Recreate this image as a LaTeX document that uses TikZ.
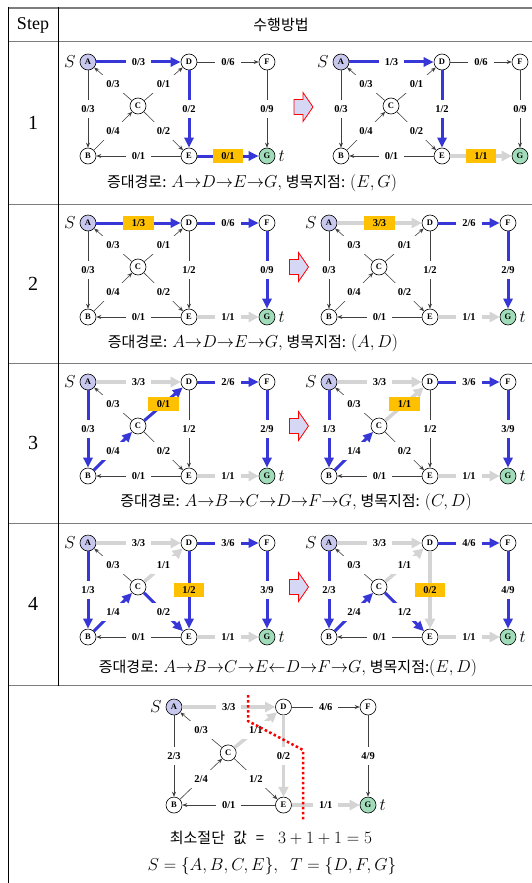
\documentclass[tikz,border=0pt]{standalone}
\usepackage{fontspec}
\setmainfont{Liberation Serif}
\newfontfamily\kr{Noto Sans CJK KR}
\usetikzlibrary{arrows.meta,positioning}
\definecolor{augblue}{RGB}{55,55,215}
\definecolor{satgray}{RGB}{212,212,212}
\definecolor{hotfill}{RGB}{255,192,0}
\definecolor{srcfill}{RGB}{200,200,238}
\definecolor{snkfill}{RGB}{160,220,185}
\definecolor{arrfill}{RGB}{214,214,245}
\definecolor{rulegray}{RGB}{125,125,125}
\newcommand{\pth}[1]{{\fontsize{17}{20}\selectfont$#1$}}
\newcommand{\ra}{{\rightarrow}}
\newcommand{\la}{{\leftarrow}}
% one network: prefix, scope options, sink mark, edge list
\newcommand{\flownet}[4]{%
  \begin{scope}[#2]
    \node[src] (#1A) at (0,0) {A};
    \node[vtx] (#1D) at (101,0) {D};
    \node[vtx] (#1F) at (179,0) {F};
    \node[vtx] (#1C) at (50,44) {C};
    \node[vtx] (#1B) at (0,94) {B};
    \node[vtx] (#1E) at (101,94) {E};
    \node[snk] (#1G) at (179,94) {G};
  \end{scope}
  \node[endlbl, left=4pt of #1A] (#1s) {$S$};
  \node[endlbl, right=3pt of #1G] (#1t) {#3};
  \foreach \ea/\eb/\es/\ls/\fl/\cp in {#4}
    \draw[\es] (#1\ea) -- node[\ls] {\fl/\cp} (#1\eb);
}
% hollow step arrow between two networks
\newcommand{\stepgo}[1]{%
  \draw[blockarr] (#1) ++(-9.5,-7.5) -- ++(9,0) -- ++(0,-7) -- ++(10,14.5)
    -- ++(-10,14.5) -- ++(0,-7) -- ++(-9,0) -- cycle;
}

\begin{document}
\begin{tikzpicture}[x=1pt, y=-1pt,
  vtx/.style={circle, draw, line width=0.6pt, fill=white, minimum size=16pt, inner sep=0pt, font=\fontsize{8.5}{9}\selectfont\bfseries},
  src/.style={vtx, fill=srcfill},
  snk/.style={vtx, fill=snkfill},
  endlbl/.style={inner sep=0pt, font=\fontsize{16}{18}\selectfont},
  nrm/.style={draw=black!75, line width=0.6pt, -{Stealth[length=5pt, width=4pt]}},
  aug/.style={draw=augblue, line width=3pt, -{Triangle[length=10pt, width=9pt]}},
  sat/.style={draw=satgray, line width=3.5pt, -{Triangle[length=10pt, width=10pt]}},
  lbl/.style={fill=white, inner xsep=6pt, inner ysep=5pt, text height=7pt, text depth=0.5pt, font=\fontsize{10.5}{12}\selectfont\bfseries},
  hot/.style={lbl, fill=hotfill, inner xsep=8.5pt, inner ysep=3.5pt},
  blockarr/.style={draw=red, fill=arrfill, line width=0.8pt, line join=miter},
  captxt/.style={inner sep=0pt, font=\fontsize{15}{18}\selectfont},
  stepnum/.style={inner sep=0pt, font=\fontsize{20}{22}\selectfont},
  hrule/.style={draw=rulegray, line width=1.3pt},
  vrule/.style={draw=black, line width=0.8pt},
  cutline/.style={draw=red, line width=2.5pt, dash pattern=on 2.5pt off 2.5pt},
]
  \useasboundingbox (0,0) rectangle (532,883);

  % table
  \foreach \yy in {8,41.5,204.5,363.5,523.5,685.5}
    \draw[hrule] (8,\yy) -- (532,\yy);
  \draw[vrule] (8,7.4) -- (8,883);
  \draw[vrule] (58,7.4) -- (58,685.5);
  \node[inner sep=0pt, font=\fontsize{18}{20}\selectfont] (hstep) at (33,25) {Step};
  \node[inner sep=0pt, font=\fontsize{15}{17}\selectfont\kr] (hmeth) at (281,25) {수행방법};

  % step 1
  \node[stepnum] (n1) at (33,123) {1};
  \flownet{pa}{shift={(88,62)}}{$t$}{A/D/aug/lbl/0/3, D/F/nrm/lbl/0/6, F/G/nrm/lbl/0/9,
    A/B/nrm/lbl/0/3, C/A/nrm/lbl/0/3, C/D/nrm/lbl/0/1, B/C/nrm/lbl/0/4, C/E/nrm/lbl/0/2,
    D/E/aug/lbl/0/2, E/B/nrm/lbl/0/1, E/G/aug/hot/0/1}
  \stepgo{303.5,107}
  \flownet{pb}{shift={(341,62)}}{}{A/D/aug/lbl/1/3, D/F/nrm/lbl/0/6, F/G/nrm/lbl/0/9,
    A/B/nrm/lbl/0/3, C/A/nrm/lbl/0/3, C/D/nrm/lbl/0/1, B/C/nrm/lbl/0/4, C/E/nrm/lbl/0/2,
    D/E/aug/lbl/1/2, E/B/nrm/lbl/0/1, E/G/sat/hot/1/1}
  \node[captxt] (cap1) at (252,183) {{\kr 증대경로:} \pth{A\ra D\ra E\ra G,} {\kr 병목지점:} \pth{(E,G)}};

  % step 2
  \node[stepnum] (n2) at (33,284) {2};
  \flownet{qa}{shift={(88,223)}}{$t$}{A/D/aug/hot/1/3, D/F/aug/lbl/0/6, F/G/aug/lbl/0/9,
    A/B/nrm/lbl/0/3, C/A/nrm/lbl/0/3, C/D/nrm/lbl/0/1, B/C/nrm/lbl/0/4, C/E/nrm/lbl/0/2,
    D/E/nrm/lbl/1/2, E/B/nrm/lbl/0/1, E/G/sat/lbl/1/1}
  \stepgo{299,267}
  \flownet{qb}{shift={(329,223)}}{$t$}{A/D/sat/hot/3/3, D/F/aug/lbl/2/6, F/G/aug/lbl/2/9,
    A/B/nrm/lbl/0/3, C/A/nrm/lbl/0/3, C/D/nrm/lbl/0/1, B/C/nrm/lbl/0/4, C/E/nrm/lbl/0/2,
    D/E/nrm/lbl/1/2, E/B/nrm/lbl/0/1, E/G/sat/lbl/1/1}
  \node[captxt] (cap2) at (253,343) {{\kr 증대경로:} \pth{A\ra D\ra E\ra G,} {\kr 병목지점:} \pth{(A,D)}};

  % step 3
  \node[stepnum] (n3) at (33,443) {3};
  \flownet{ra}{shift={(88,382)}}{$t$}{A/D/sat/lbl/3/3, D/F/aug/lbl/2/6, F/G/aug/lbl/2/9,
    A/B/aug/lbl/0/3, C/A/nrm/lbl/0/3, C/D/aug/hot/0/1, B/C/aug/lbl/0/4, C/E/nrm/lbl/0/2,
    D/E/nrm/lbl/1/2, E/B/nrm/lbl/0/1, E/G/sat/lbl/1/1}
  \stepgo{299,426}
  \flownet{rb}{shift={(329,382)}}{$t$}{A/D/sat/lbl/3/3, D/F/aug/lbl/3/6, F/G/aug/lbl/3/9,
    A/B/aug/lbl/1/3, C/A/nrm/lbl/0/3, C/D/sat/hot/1/1, B/C/aug/lbl/1/4, C/E/nrm/lbl/0/2,
    D/E/nrm/lbl/1/2, E/B/nrm/lbl/0/1, E/G/sat/lbl/1/1}
  \node[captxt] (cap3) at (296,502) {{\kr 증대경로:} \pth{A\ra B\ra C\ra D\ra F\ra G,} {\kr 병목지점:} \pth{(C,D)}};

  % step 4
  \node[stepnum] (n4) at (33,604) {4};
  \flownet{sa}{shift={(88,543)}}{$t$}{A/D/sat/lbl/3/3, D/F/aug/lbl/3/6, F/G/aug/lbl/3/9,
    A/B/aug/lbl/1/3, C/A/nrm/lbl/0/3, C/D/sat/lbl/1/1, B/C/aug/lbl/1/4, C/E/aug/lbl/0/2,
    D/E/aug/hot/1/2, E/B/nrm/lbl/0/1, E/G/sat/lbl/1/1}
  \stepgo{299,587}
  \flownet{sb}{shift={(329,543)}}{$t$}{A/D/sat/lbl/3/3, D/F/aug/lbl/4/6, F/G/aug/lbl/4/9,
    A/B/aug/lbl/2/3, C/A/nrm/lbl/0/3, C/D/sat/lbl/1/1, B/C/aug/lbl/2/4, C/E/aug/lbl/1/2,
    D/E/sat/hot/0/2, E/B/nrm/lbl/0/1, E/G/sat/lbl/1/1}
  \node[captxt] (cap4) at (288,668) {{\kr 증대경로:} \pth{A\ra B\ra C\ra E\la D\ra F\ra G,} {\kr 병목지점:}\pth{(E,D)}};

  % min cut
  \flownet{ta}{shift={(174,707)}, xscale=1.084, yscale=1.043}{$t$}{A/D/sat/lbl/3/3, D/F/nrm/lbl/4/6, F/G/nrm/lbl/4/9,
    A/B/nrm/lbl/2/3, C/A/nrm/lbl/0/3, C/D/sat/lbl/1/1, B/C/nrm/lbl/2/4, C/E/nrm/lbl/1/2,
    D/E/sat/lbl/0/2, E/B/nrm/lbl/0/1, E/G/sat/lbl/1/1}
  \draw[cutline] (248,695) -- (248,721) -- (303,750) -- (303,820);
  \node[captxt] (cap5) at (271,838) {{\fontsize{15}{18}\selectfont\kr 최소절단\hspace{8pt}값\hspace{9pt}=\hspace{14pt}}{\fontsize{19}{21}\selectfont$3+1+1=5$}};
  \node[captxt] (cap6) at (272,866) {{\fontsize{18.5}{21}\selectfont$S=\{A,B,C,E\},\ \ T=\{D,F,G\}$}};
\end{tikzpicture}
\end{document}
